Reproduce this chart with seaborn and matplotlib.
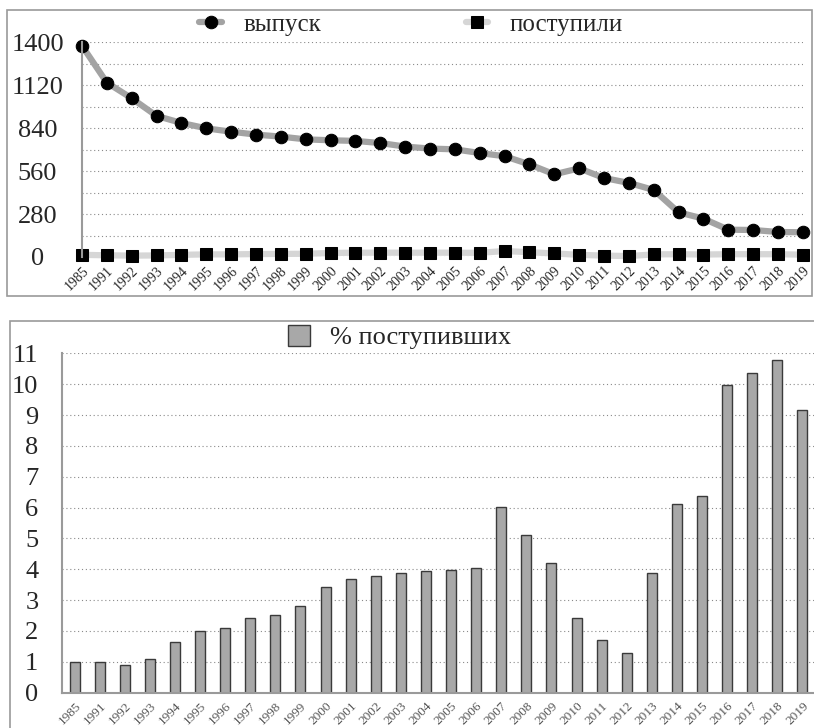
import seaborn as sns
import matplotlib.pyplot as plt
from matplotlib.patches import Rectangle
from matplotlib.ticker import MultipleLocator, FixedLocator
import numpy as np

# -----------------------------------------------------------
# Data
# -----------------------------------------------------------

years = ["1985"] + [str(y) for y in range(1991, 2020)]

vypusk = [1378, 1137, 1035, 920, 874, 839, 817, 798, 785, 767,
          761, 757, 743, 720, 707, 702, 678, 657, 604, 539,
          578, 515, 483, 437, 291, 250, 178, 176, 163, 161]

postupili = [14, 11, 9, 10, 14, 17, 17, 19, 20, 21,
             26, 28, 28, 28, 28, 28, 27, 39, 31, 23,
             14, 9, 6, 17, 18, 16, 18, 18, 18, 15]

pct = [1.0, 1.0, 0.91, 1.08, 1.63, 1.99, 2.10, 2.41, 2.53, 2.80,
       3.41, 3.69, 3.78, 3.87, 3.96, 3.97, 4.05, 6.01, 5.10, 4.21,
       2.41, 1.72, 1.29, 3.87, 6.10, 6.39, 9.97, 10.36, 10.78, 9.17]

# -----------------------------------------------------------
# Style
# -----------------------------------------------------------

sns.set_style("white")
plt.rcParams["font.family"] = ["Liberation Serif", "DejaVu Serif"]

fig = plt.figure(figsize=(8.14, 7.28), dpi=100)

# panel frames
fig.patches.append(Rectangle((0.0086, 0.5934), 0.989, 0.3926, transform=fig.transFigure,
                             fill=False, edgecolor="#9a9a9a", lw=1.2))
fig.patches.append(Rectangle((0.0123, -0.05), 0.99, 0.6095, transform=fig.transFigure,
                             fill=False, edgecolor="#9a9a9a", lw=1.2))

# -----------------------------------------------------------
# Top panel: lines
# -----------------------------------------------------------

ax1 = fig.add_axes([0.1007, 0.647, 0.8857, 0.2949])

sns.lineplot(x=years, y=vypusk, ax=ax1, sort=False, color="#a3a3a3", lw=4.5,
             marker="o", markersize=9, mfc="black", mec="black", label="выпуск",
             clip_on=False)
sns.lineplot(x=years, y=postupili, ax=ax1, sort=False, color="#d6d6d6", lw=4.5,
             marker="s", markersize=8.5, mfc="black", mec="black", label="поступили",
             clip_on=False)

ax1.set_xlim(0, len(years) - 1)
ax1.set_ylim(0, 1400)
ax1.yaxis.set_major_locator(MultipleLocator(280))
ax1.yaxis.set_minor_locator(MultipleLocator(140))
ax1.grid(axis="y", which="both", linestyle=(0, (1, 2.5)), color="#8a8a8a", lw=0.8)
ax1.set_axisbelow(True)
for s in ["top", "right", "bottom"]:
    ax1.spines[s].set_visible(False)
ax1.spines["left"].set_color("#9a9a9a")
ax1.spines["left"].set_linewidth(1.5)
ax1.tick_params(axis="y", which="both", length=0, labelsize=19, pad=32)
plt.setp(ax1.get_yticklabels(), ha="center")
ax1.tick_params(axis="x", length=0, labelsize=10, pad=5)
plt.setp(ax1.get_xticklabels(), rotation=45, ha="right", rotation_mode="anchor")
ax1.set_xlabel("")
ax1.set_ylabel("")

ax1.legend(loc="center", bbox_to_anchor=(0.505, 0.966), bbox_transform=fig.transFigure,
           ncol=2, frameon=False, fontsize=18, columnspacing=5.8, handlelength=0.9,
           handletextpad=0.85)

# -----------------------------------------------------------
# Bottom panel: bars
# -----------------------------------------------------------

ax2 = fig.add_axes([0.0762, 0.0485, 0.925, 0.4662])

sns.barplot(x=years, y=pct, ax=ax2, color="#a8a8a8", edgecolor="#3a3a3a",
            linewidth=1.0, width=0.4, saturation=1)

ax2.set_xlim(-0.5, len(years) - 0.5)
ax2.set_ylim(0, 11)
ax2.yaxis.set_major_locator(MultipleLocator(1))
ax2.grid(axis="y", linestyle=(0, (1, 2.5)), color="#8a8a8a", lw=0.8)
ax2.set_axisbelow(True)
for s in ["top", "right"]:
    ax2.spines[s].set_visible(False)
for s in ["left", "bottom"]:
    ax2.spines[s].set_color("#9a9a9a")
    ax2.spines[s].set_linewidth(1.5)
ax2.xaxis.set_minor_locator(FixedLocator(np.arange(-0.5, len(years), 1.0)))
ax2.tick_params(axis="x", which="minor", length=4, color="#9a9a9a", width=1)
ax2.tick_params(axis="x", which="major", length=0, labelsize=9.5, pad=5, labelcolor="#555555")
ax2.tick_params(axis="y", length=4, color="#9a9a9a", labelsize=19, pad=13)
ax2.set_xlabel("")
ax2.set_ylabel("")
plt.setp(ax2.get_xticklabels(), rotation=45, ha="right", rotation_mode="anchor")

ax2.legend(handles=[ax2.containers[0]], labels=["% поступивших"], loc="center",
           bbox_to_anchor=(0.491, 0.537), bbox_transform=fig.transFigure,
           frameon=False, fontsize=19, handlelength=0.85, handleheight=0.85,
           handletextpad=0.75)

plt.savefig("out.png", dpi=100)
plt.close()
